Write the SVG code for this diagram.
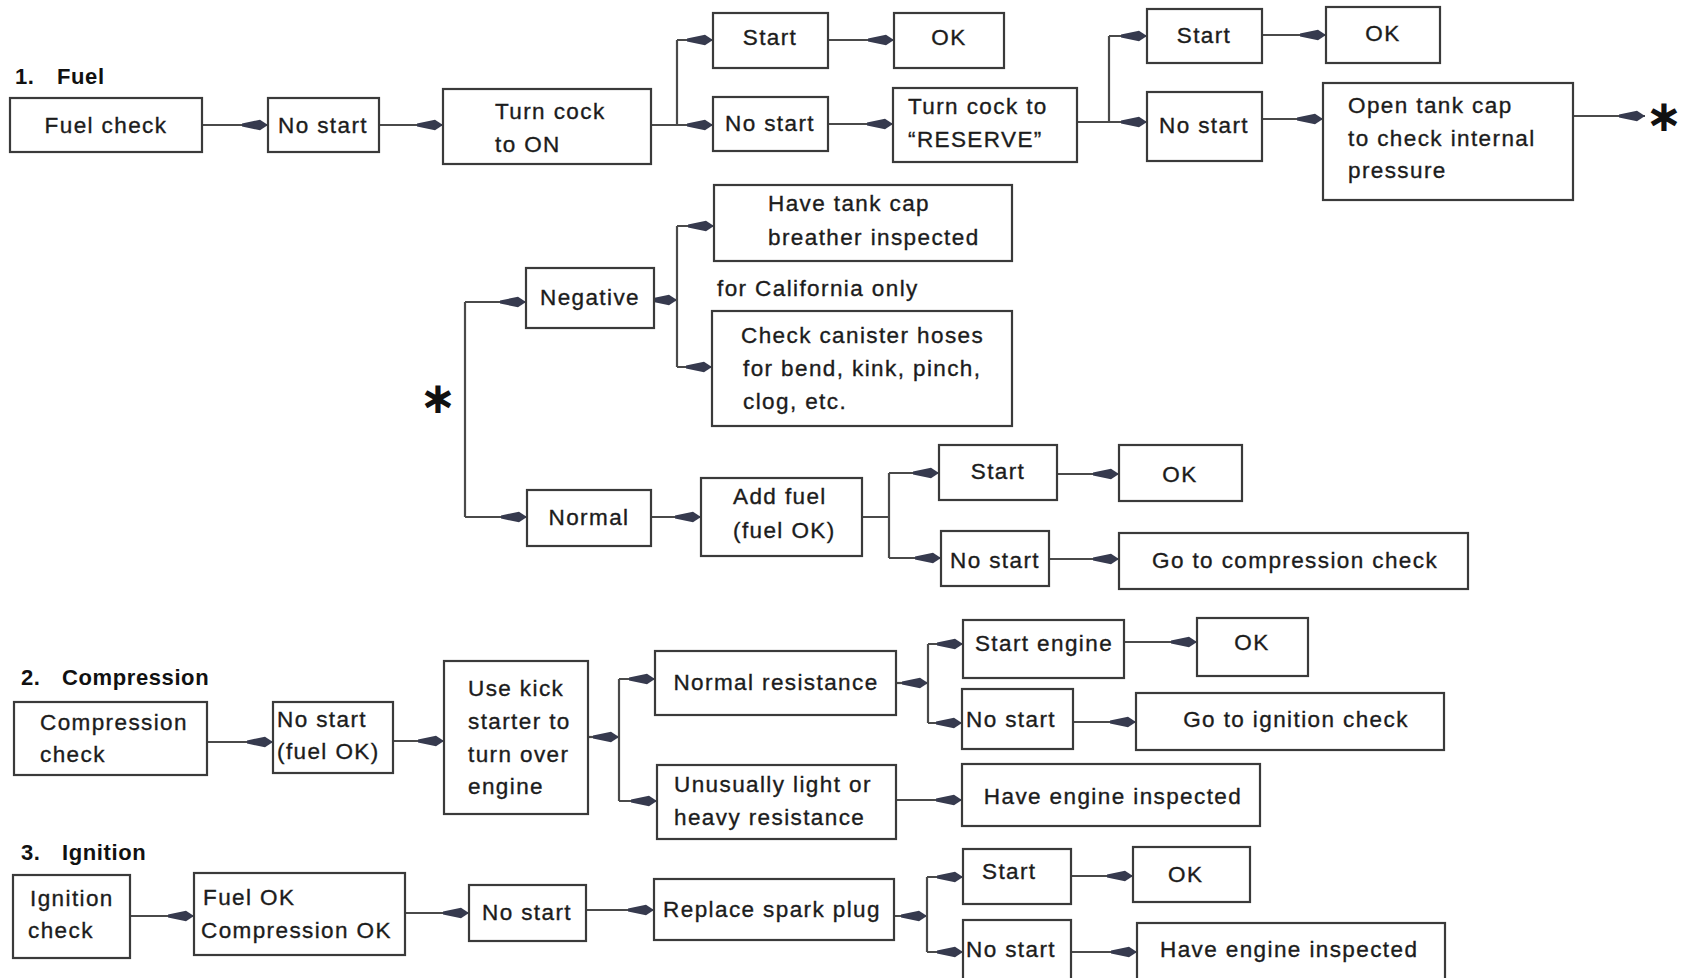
<svg xmlns="http://www.w3.org/2000/svg" width="1683" height="978" viewBox="0 0 1683 978">
<style>
.b{fill:#fff;stroke:#3a3a3a;stroke-width:2.2}
.t{font-family:"Liberation Sans",Arial,sans-serif;font-size:22.5px;letter-spacing:1.4px;fill:#1c1c1c;stroke:#1c1c1c;stroke-width:0.35}
.c{text-anchor:middle}
.h{font-family:"Liberation Sans",Arial,sans-serif;font-size:22px;font-weight:bold;letter-spacing:0.6px;fill:#111}
.l{fill:none;stroke:#4a4a4a;stroke-width:2.2}
.a{fill:none;stroke:#4a4a4a;stroke-width:2.2;marker-end:url(#ah)}
.s{font-family:"DejaVu Sans",sans-serif;font-size:44px;font-weight:bold;fill:#111;text-anchor:middle}
</style>
<defs>
<marker id="ah" viewBox="0 0 26 12" refX="26" refY="6" markerWidth="26" markerHeight="12" markerUnits="userSpaceOnUse" orient="auto">
<path d="M0,4.4 L18,0.8 L26,6 L18,11.2 L0,7.6 z" fill="#363a4e"/>
</marker>
</defs>
<rect width="1683" height="978" fill="#fff"/>

<text class="h"><tspan x="15" y="84">1.</tspan><tspan x="57" y="84">Fuel</tspan></text>
<text class="h"><tspan x="21" y="685">2.</tspan><tspan x="62" y="685">Compression</tspan></text>
<text class="h"><tspan x="21" y="860">3.</tspan><tspan x="62" y="860">Ignition</tspan></text>

<g id="connectors">
<path class="a" d="M202,125 H268"/>
<path class="a" d="M379,125 H443"/>
<path class="l" d="M651,125 H677 M677,40 V125"/>
<path class="a" d="M677,40 H713"/>
<path class="a" d="M677,125 H713"/>
<path class="a" d="M828,40 H894"/>
<path class="a" d="M828,124 H893"/>
<path class="l" d="M1077,122 H1109 M1109,36 V122"/>
<path class="a" d="M1109,36 H1147"/>
<path class="a" d="M1109,122 H1147"/>
<path class="a" d="M1262,35 H1326"/>
<path class="a" d="M1262,119 H1323"/>
<path class="a" d="M1573,116 H1645"/>

<path class="l" d="M465,302 V517"/>
<path class="a" d="M465,302 H526"/>
<path class="a" d="M465,517 H527"/>
<path class="a" d="M654,300 H677"/>
<path class="l" d="M677,226 V367"/>
<path class="a" d="M677,226 H714"/>
<path class="a" d="M677,367 H712"/>
<path class="a" d="M651,517 H701"/>
<path class="l" d="M862,517 H889 M889,473 V558"/>
<path class="a" d="M889,473 H939"/>
<path class="a" d="M889,558 H941"/>
<path class="a" d="M1057,474 H1119"/>
<path class="a" d="M1049,559 H1119"/>

<path class="a" d="M207,742 H273"/>
<path class="a" d="M393,741 H444"/>
<path class="a" d="M588,737 H619"/>
<path class="l" d="M619,679 V801"/>
<path class="a" d="M619,679 H655"/>
<path class="a" d="M619,801 H657"/>
<path class="a" d="M896,683 H928"/>
<path class="l" d="M928,644 V723"/>
<path class="a" d="M928,644 H963"/>
<path class="a" d="M928,723 H962"/>
<path class="a" d="M1124,642 H1197"/>
<path class="a" d="M1073,722 H1136"/>
<path class="a" d="M896,800 H962"/>

<path class="a" d="M130,916 H194"/>
<path class="a" d="M405,913 H469"/>
<path class="a" d="M586,910 H654"/>
<path class="a" d="M894,916 H927"/>
<path class="l" d="M927,877 V952"/>
<path class="a" d="M927,877 H963"/>
<path class="a" d="M927,952 H963"/>
<path class="a" d="M1071,876 H1133"/>
<path class="a" d="M1071,952 H1137"/>
</g>

<text class="s" x="1664" y="131">∗</text>
<text class="s" x="438" y="413">∗</text>

<g id="n1"><rect class="b" x="10" y="98" width="192" height="54"/><text class="t c" x="106" y="133">Fuel check</text></g>
<g id="n2"><rect class="b" x="268" y="98" width="111" height="54"/><text class="t c" x="323" y="133">No start</text></g>
<g id="n3"><rect class="b" x="443" y="89" width="208" height="75"/><text class="t" x="495" y="119">Turn cock</text><text class="t" x="495" y="152">to ON</text></g>
<g id="n4"><rect class="b" x="713" y="13" width="115" height="55"/><text class="t c" x="770" y="45">Start</text></g>
<g id="n5"><rect class="b" x="894" y="13" width="110" height="55"/><text class="t c" x="949" y="45">OK</text></g>
<g id="n6"><rect class="b" x="713" y="97" width="115" height="54"/><text class="t c" x="770" y="131">No start</text></g>
<g id="n7"><rect class="b" x="893" y="88" width="184" height="74"/><text class="t" x="908" y="114">Turn cock to</text><text class="t" x="908" y="147">“RESERVE”</text></g>
<g id="n8"><rect class="b" x="1147" y="9" width="115" height="54"/><text class="t c" x="1204" y="43">Start</text></g>
<g id="n9"><rect class="b" x="1326" y="7" width="114" height="56"/><text class="t c" x="1383" y="41">OK</text></g>
<g id="n10"><rect class="b" x="1147" y="92" width="115" height="69"/><text class="t c" x="1204" y="133">No start</text></g>
<g id="n11"><rect class="b" x="1323" y="83" width="250" height="117"/><text class="t" x="1348" y="113">Open tank cap</text><text class="t" x="1348" y="146">to check internal</text><text class="t" x="1348" y="178">pressure</text></g>

<g id="n12"><rect class="b" x="526" y="268" width="128" height="60"/><text class="t c" x="590" y="305">Negative</text></g>
<g id="n13"><rect class="b" x="714" y="185" width="298" height="76"/><text class="t" x="768" y="211">Have tank cap</text><text class="t" x="768" y="245">breather inspected</text></g>
<g id="note"><text class="t" x="717" y="296">for California only</text></g>
<g id="n14"><rect class="b" x="712" y="311" width="300" height="115"/><text class="t" x="741" y="343">Check canister hoses</text><text class="t" x="743" y="376">for bend, kink, pinch,</text><text class="t" x="743" y="409">clog, etc.</text></g>
<g id="n15"><rect class="b" x="527" y="490" width="124" height="56"/><text class="t c" x="589" y="525">Normal</text></g>
<g id="n16"><rect class="b" x="701" y="478" width="161" height="78"/><text class="t" x="733" y="504">Add fuel</text><text class="t" x="733" y="538">(fuel OK)</text></g>
<g id="n17"><rect class="b" x="939" y="445" width="118" height="55"/><text class="t c" x="998" y="479">Start</text></g>
<g id="n18"><rect class="b" x="1119" y="445" width="123" height="56"/><text class="t c" x="1180" y="482">OK</text></g>
<g id="n19"><rect class="b" x="941" y="531" width="108" height="55"/><text class="t c" x="995" y="568">No start</text></g>
<g id="n20"><rect class="b" x="1119" y="533" width="349" height="56"/><text class="t" x="1152" y="568">Go to compression check</text></g>

<g id="n21"><rect class="b" x="14" y="702" width="193" height="73"/><text class="t" x="40" y="730">Compression</text><text class="t" x="40" y="762">check</text></g>
<g id="n22"><rect class="b" x="273" y="702" width="120" height="71"/><text class="t" x="277" y="727">No start</text><text class="t" x="277" y="759">(fuel OK)</text></g>
<g id="n23"><rect class="b" x="444" y="661" width="144" height="153"/><text class="t" x="468" y="696">Use kick</text><text class="t" x="468" y="729">starter to</text><text class="t" x="468" y="762">turn over</text><text class="t" x="468" y="794">engine</text></g>
<g id="n24"><rect class="b" x="655" y="651" width="241" height="64"/><text class="t c" x="776" y="690">Normal resistance</text></g>
<g id="n25"><rect class="b" x="657" y="765" width="239" height="74"/><text class="t" x="674" y="792">Unusually light or</text><text class="t" x="674" y="825">heavy resistance</text></g>
<g id="n26"><rect class="b" x="963" y="620" width="161" height="58"/><text class="t c" x="1044" y="651">Start engine</text></g>
<g id="n27"><rect class="b" x="1197" y="618" width="111" height="58"/><text class="t c" x="1252" y="650">OK</text></g>
<g id="n28"><rect class="b" x="962" y="689" width="111" height="60"/><text class="t" x="966" y="727">No start</text></g>
<g id="n29"><rect class="b" x="1136" y="693" width="308" height="57"/><text class="t c" x="1296" y="727">Go to ignition check</text></g>
<g id="n30"><rect class="b" x="962" y="764" width="298" height="62"/><text class="t c" x="1113" y="804">Have engine inspected</text></g>

<g id="n31"><rect class="b" x="13" y="875" width="117" height="83"/><text class="t" x="30" y="906">Ignition</text><text class="t" x="28" y="938">check</text></g>
<g id="n32"><rect class="b" x="194" y="873" width="211" height="82"/><text class="t" x="203" y="905">Fuel OK</text><text class="t" x="201" y="938">Compression OK</text></g>
<g id="n33"><rect class="b" x="469" y="885" width="117" height="56"/><text class="t c" x="527" y="920">No start</text></g>
<g id="n34"><rect class="b" x="654" y="879" width="240" height="61"/><text class="t c" x="772" y="917">Replace spark plug</text></g>
<g id="n35"><rect class="b" x="963" y="849" width="108" height="55"/><text class="t" x="982" y="879">Start</text></g>
<g id="n36"><rect class="b" x="1133" y="847" width="117" height="55"/><text class="t" x="1168" y="882">OK</text></g>
<g id="n37"><rect class="b" x="963" y="920" width="108" height="62"/><text class="t" x="966" y="957">No start</text></g>
<g id="n38"><rect class="b" x="1137" y="923" width="308" height="59"/><text class="t" x="1160" y="957">Have engine inspected</text></g>
</svg>
